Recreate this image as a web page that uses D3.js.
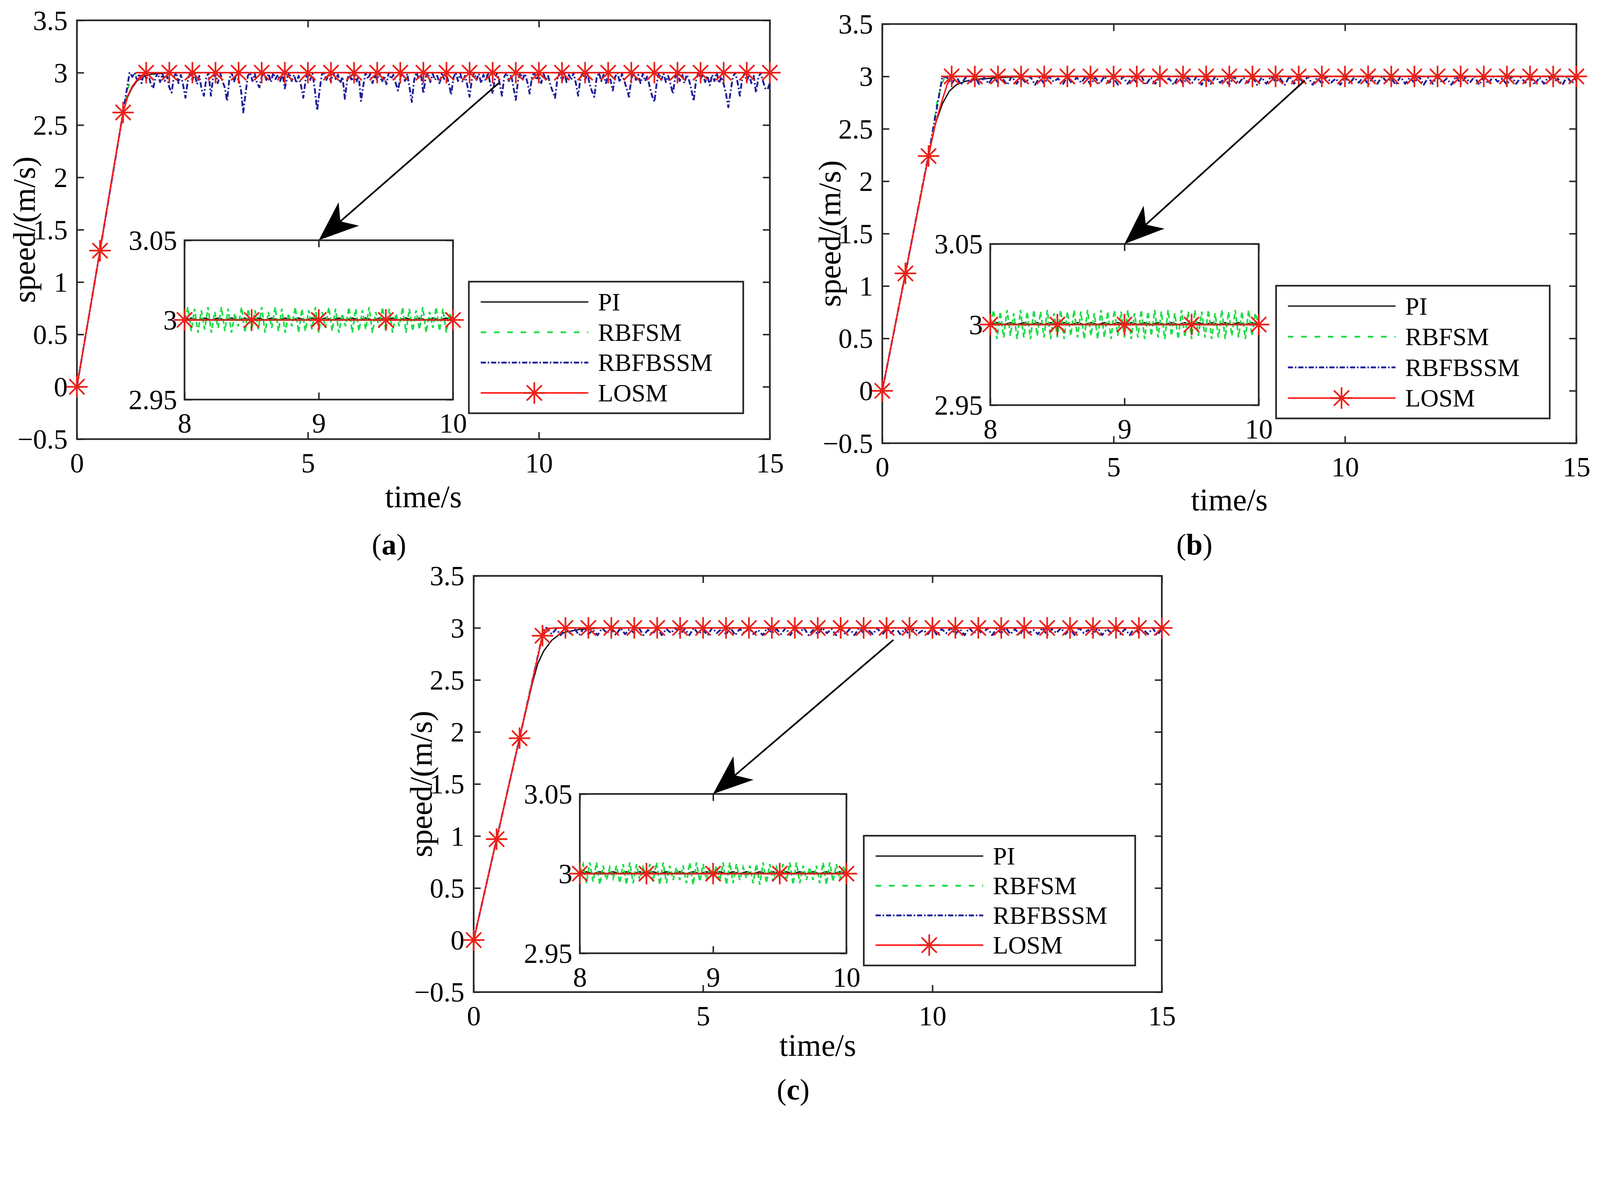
<!DOCTYPE html>
<html lang="en">
<head>
<meta charset="UTF-8">
<title>Speed response</title>
<script src="https://cdnjs.cloudflare.com/ajax/libs/d3/7.8.5/d3.min.js"></script>
<style>
html, body { margin: 0; padding: 0; background: #fff; overflow: hidden; }
svg { display: block; background: #fff; width: 100vw; height: 100vh; }
</style>
</head>
<body>
<svg id="canvas"></svg>
<script>
// ---- tick values and names ----
let xTicks = [0, 5, 10, 15]
let yTicks = [-0.5, 0, 0.5, 1, 1.5, 2, 2.5, 3, 3.5]
let insetXTicks = [8, 9, 10]
let insetYTicks = [2.95, 3, 3.05]
let seriesNames = ['PI', 'RBFSM', 'RBFBSSM', 'LOSM']

// ---- panel (a) ----
// LOSM, one value every 0.5 s from 0 to 15 (star markers)
let losmA = [0, 1.30, 2.62, 3.00, 3.00, 3.00, 3.00, 3.00, 3.00, 3.00,
             3.00, 3.00, 3.00, 3.00, 3.00, 3.00, 3.00, 3.00, 3.00, 3.00,
             3.00, 3.00, 3.00, 3.00, 3.00, 3.00, 3.00, 3.00, 3.00, 3.00, 3.00]
let losmFineA = [[0.25, 0.65], [0.75, 1.97], [1.1, 2.78], [1.2, 2.87], [1.3, 2.93], [1.4, 2.975]]
let piA = [[0, 0], [0.5, 1.30], [1.0, 2.62], [1.1, 2.77], [1.2, 2.86], [1.3, 2.92], [1.4, 2.96],
           [1.6, 2.985], [2.0, 2.998], [2.5, 3.0], [15, 3.0]]
let rbfsmA = [[0, 0], [0.5, 1.30], [1.0, 2.62], [1.1, 2.85], [1.2, 2.97], [1.3, 3.0], [15, 3.0]]
let rbfbssmRiseA = [[0, 0], [0.5, 1.30], [1.0, 2.62], [1.14, 3.0]]
// RBFBSSM from 1.15 s, every 0.05 s
let rbfbssmA = [
  3.00, 2.96, 3.00, 2.93, 2.99, 2.90, 3.00, 2.94, 2.98, 2.89, 2.85, 2.95, 3.00, 2.91, 2.99, 2.92, 2.97,
  2.86, 2.81, 2.96, 3.00, 2.90, 2.98, 2.88, 2.76, 2.92, 3.00, 2.93, 2.99, 2.89, 2.97, 2.84, 2.78, 2.95, 3.00, 2.78, 2.96,
  2.99, 2.90, 3.00, 2.92, 2.86, 2.73, 2.94, 3.00, 2.91, 2.98, 2.93, 2.84, 2.62, 2.80, 2.97, 3.00, 2.92, 2.99, 2.90, 2.86,
  2.96, 3.00, 2.93, 2.99, 2.91, 3.00, 2.94, 2.98, 2.92, 2.99, 2.85, 2.95, 3.00, 2.92, 2.98, 2.90, 2.97, 2.88, 2.76, 2.93,
  3.00, 2.93, 2.99, 2.84, 2.64, 2.82, 2.98, 3.00, 2.93, 2.99, 2.91, 3.00, 2.94, 2.98, 2.90, 2.96, 2.75, 2.93, 3.00, 2.92,
  2.99, 2.91, 2.97, 2.73, 2.88, 3.00, 2.94, 2.99, 2.90, 2.98, 2.93, 3.00, 2.91, 2.97, 2.89, 3.00, 2.94, 2.98, 2.90, 2.83,
  2.95, 3.00, 2.92, 2.99, 2.86, 2.72, 2.93, 3.00, 2.94, 2.98, 2.80, 2.96, 3.00, 2.91, 2.99, 2.93, 2.97, 2.89, 3.00, 2.94,
  2.98, 2.90, 2.79, 2.95, 3.00, 2.92, 2.99, 2.91, 2.97, 2.88, 2.77, 2.94, 3.00, 2.93, 2.99, 2.90, 2.98, 2.92, 3.00, 2.89,
  2.80, 2.95, 3.00, 2.90, 2.78, 2.96, 3.00, 2.92, 2.98, 2.86, 2.74, 2.93, 3.00, 2.94, 2.99, 2.91, 2.80, 2.96, 3.00, 2.93,
  2.98, 2.90, 2.99, 2.93, 2.97, 2.88, 2.82, 2.76, 2.94, 3.00, 2.92, 2.99, 2.91, 2.98, 2.93, 3.00, 2.90, 2.78, 2.95, 3.00,
  2.93, 2.99, 2.89, 2.82, 2.77, 2.95, 3.00, 2.92, 2.98, 2.90, 2.97, 2.93, 2.83, 2.96, 3.00, 2.91, 2.99, 2.92, 2.85, 2.77,
  2.94, 3.00, 2.93, 2.98, 2.90, 2.99, 2.92, 2.97, 2.86, 2.78, 2.72, 2.90, 3.00, 2.93, 2.99, 2.91, 2.97, 2.89, 2.80, 2.95,
  3.00, 2.92, 2.99, 2.90, 2.98, 2.93, 2.84, 2.73, 2.92, 3.00, 2.94, 2.99, 2.91, 2.97, 2.88, 2.98, 2.92, 3.00, 2.90, 2.96,
  2.89, 2.80, 2.67, 2.82, 2.96, 3.00, 2.91, 2.78, 2.94, 2.99, 2.92, 2.98, 2.90, 2.97, 2.81, 2.95, 3.00, 2.92, 2.85, 2.84,
  2.90]
// RBFSM inside the 8-10 s zoom, every 0.025 s
let rbfsmZoomA = [
  3.000, 3.008, 2.993, 3.007, 2.992, 3.006, 2.994, 3.008, 2.992, 3.005,
  2.995, 3.008, 2.993, 3.007, 2.992, 3.004, 2.996, 3.008, 2.992, 3.007,
  2.993, 3.006, 2.994, 3.008, 2.992, 3.005, 2.995, 3.008, 2.993, 3.007,
  2.992, 3.004, 2.996, 3.008, 2.992, 3.007, 2.993, 3.006, 2.994, 3.008,
  2.992, 3.005, 2.995, 3.008, 2.993, 3.007, 2.992, 3.004, 2.996, 3.008,
  2.992, 3.007, 2.993, 3.006, 2.994, 3.008, 2.992, 3.005, 2.995, 3.008,
  2.993, 3.007, 2.992, 3.004, 2.996, 3.008, 2.992, 3.007, 2.993, 3.006,
  2.994, 3.008, 2.992, 3.005, 2.995, 3.008, 2.993, 3.007, 2.992, 3.004,
  3.000]

// ---- panel (b) ----
let losmB = [0, 1.12, 2.24, 3.00, 3.00, 3.00, 3.00, 3.00, 3.00, 3.00,
             3.00, 3.00, 3.00, 3.00, 3.00, 3.00, 3.00, 3.00, 3.00, 3.00,
             3.00, 3.00, 3.00, 3.00, 3.00, 3.00, 3.00, 3.00, 3.00, 3.00, 3.00]
let losmFineB = [[0.25, 0.56], [0.75, 1.68], [1.1, 2.46], [1.2, 2.63], [1.3, 2.78], [1.4, 2.92]]
let piB = [[0, 0], [0.5, 1.12], [1.0, 2.24], [1.15, 2.55], [1.3, 2.74], [1.45, 2.86], [1.6, 2.92],
           [1.8, 2.955], [2.1, 2.975], [2.6, 2.99], [3.2, 3.0], [15, 3.0]]
let rbfsmB = [[0, 0], [0.5, 1.12], [1.0, 2.24], [1.2, 2.8], [1.35, 3.0], [15, 3.0]]
let rbfbssmRiseB = [[0, 0], [0.5, 1.12], [1.0, 2.25], [1.3, 3.0]]
// RBFBSSM from 1.4 s, every 0.1 s
let rbfbssmB = [
  2.99, 2.93, 3.00, 2.92, 2.99, 2.94,
  3.00, 2.92, 2.99, 2.93, 3.00, 2.94, 2.98, 2.92, 3.00, 2.93,
  2.99, 2.94, 3.00, 2.92, 2.99, 2.93, 3.00, 2.95, 2.98, 2.92,
  3.00, 2.93, 2.99, 2.94, 3.00, 2.92, 2.99, 2.93, 3.00, 2.94,
  2.98, 2.92, 3.00, 2.93, 2.99, 2.94, 3.00, 2.92, 2.99, 2.93,
  3.00, 2.95, 2.98, 2.92, 3.00, 2.93, 2.99, 2.94, 3.00, 2.92,
  2.99, 2.93, 3.00, 2.94, 2.98, 2.92, 3.00, 2.93, 2.99, 2.94,
  3.00, 2.92, 2.99, 2.93, 3.00, 2.95, 2.98, 2.92, 3.00, 2.93,
  2.99, 2.94, 3.00, 2.92, 2.99, 2.93, 3.00, 2.94, 2.98, 2.92,
  3.00, 2.93, 2.99, 2.94, 3.00, 2.92, 2.99, 2.93, 3.00, 2.95,
  2.98, 2.92, 3.00, 2.93, 2.99, 2.94, 3.00, 2.92, 2.99, 2.93,
  3.00, 2.94, 2.98, 2.92, 3.00, 2.93, 2.99, 2.94, 3.00, 2.92,
  2.99, 2.93, 3.00, 2.95, 2.98, 2.92, 3.00, 2.93, 2.99, 2.94,
  3.00, 2.92, 2.99, 2.93, 3.00, 2.94, 2.98, 2.92, 3.00, 2.93,
  2.99]
let rbfsmZoomB = [
  3.000, 3.009, 2.991, 3.008, 2.992, 3.009, 2.993, 3.007, 2.991, 3.009,
  2.992, 3.008, 2.991, 3.009, 2.993, 3.008, 2.992, 3.009, 2.991, 3.007,
  2.992, 3.009, 2.991, 3.008, 2.993, 3.009, 2.992, 3.008, 2.991, 3.009,
  2.993, 3.007, 2.991, 3.009, 2.992, 3.008, 2.991, 3.009, 2.993, 3.008,
  2.992, 3.009, 2.991, 3.007, 2.992, 3.009, 2.991, 3.008, 2.993, 3.009,
  2.992, 3.008, 2.991, 3.009, 2.993, 3.007, 2.991, 3.009, 2.992, 3.008,
  2.991, 3.009, 2.993, 3.008, 2.992, 3.009, 2.991, 3.007, 2.992, 3.009,
  2.991, 3.008, 2.993, 3.009, 2.992, 3.008, 2.991, 3.009, 2.993, 3.007,
  3.000]

// ---- panel (c) ----
let losmC = [0, 0.97, 1.94, 2.925, 3.00, 3.00, 3.00, 3.00, 3.00, 3.00,
             3.00, 3.00, 3.00, 3.00, 3.00, 3.00, 3.00, 3.00, 3.00, 3.00,
             3.00, 3.00, 3.00, 3.00, 3.00, 3.00, 3.00, 3.00, 3.00, 3.00, 3.00]
let losmFineC = [[0.25, 0.485], [0.75, 1.455], [1.25, 2.43], [1.55, 2.975], [1.6, 2.995]]
let piC = [[0, 0], [0.5, 0.97], [1.0, 1.94], [1.28, 2.47], [1.4, 2.66], [1.53, 2.78], [1.7, 2.88],
           [1.85, 2.93], [2.0, 2.96], [2.3, 2.985], [2.8, 3.0], [15, 3.0]]
let rbfsmC = [[0, 0], [0.5, 0.97], [1.0, 1.94], [1.5, 2.925], [1.6, 3.0], [15, 3.0]]
let rbfbssmRiseC = [[0, 0], [0.5, 0.97], [1.0, 1.94], [1.5, 2.93], [1.55, 3.0]]
// RBFBSSM from 1.6 s, every 0.1 s
let rbfbssmC = [
  3.00, 2.94, 2.99, 2.93,
  3.00, 2.95, 2.99, 2.93, 3.00, 2.94, 2.98, 2.93, 3.00, 2.95,
  2.99, 2.93, 3.00, 2.94, 2.99, 2.95, 3.00, 2.93, 2.98, 2.94,
  3.00, 2.93, 2.99, 2.95, 3.00, 2.94, 2.99, 2.93, 3.00, 2.94,
  2.98, 2.93, 3.00, 2.95, 2.99, 2.94, 3.00, 2.93, 2.99, 2.95,
  3.00, 2.94, 2.98, 2.93, 3.00, 2.95, 2.99, 2.94, 3.00, 2.93,
  2.99, 2.95, 3.00, 2.93, 2.98, 2.94, 3.00, 2.95, 2.99, 2.93,
  3.00, 2.94, 2.99, 2.93, 3.00, 2.95, 2.98, 2.94, 3.00, 2.93,
  2.99, 2.95, 3.00, 2.94, 2.99, 2.93, 3.00, 2.95, 2.98, 2.94,
  3.00, 2.93, 2.99, 2.95, 3.00, 2.94, 2.99, 2.93, 3.00, 2.95,
  2.98, 2.94, 3.00, 2.93, 2.99, 2.95, 3.00, 2.94, 2.99, 2.93,
  3.00, 2.95, 2.98, 2.94, 3.00, 2.93, 2.99, 2.95, 3.00, 2.94,
  2.99, 2.93, 3.00, 2.95, 2.98, 2.94, 3.00, 2.93, 2.99, 2.95,
  3.00, 2.94, 2.99, 2.93, 3.00, 2.95, 2.98, 2.94, 3.00, 2.93,
  2.99]
let rbfsmZoomC = [
  3.000, 3.006, 2.994, 3.007, 2.995, 3.007, 2.993, 3.005, 2.996, 3.004,
  2.997, 3.005, 2.994, 3.006, 2.993, 3.007, 2.994, 3.006, 2.996, 3.004,
  2.997, 3.006, 2.995, 3.007, 2.993, 3.007, 2.994, 3.005, 2.996, 3.004,
  2.996, 3.005, 2.994, 3.007, 2.993, 3.007, 2.995, 3.006, 2.996, 3.004,
  2.997, 3.005, 2.995, 3.007, 2.993, 3.007, 2.994, 3.006, 2.996, 3.004,
  2.997, 3.005, 2.994, 3.006, 2.993, 3.007, 2.994, 3.006, 2.995, 3.004,
  2.997, 3.006, 2.995, 3.007, 2.993, 3.007, 2.994, 3.005, 2.996, 3.004,
  2.996, 3.005, 2.994, 3.007, 2.993, 3.007, 2.995, 3.006, 2.996, 3.005,
  3.000]

// PI inside the zoom, every 0.05 s (tiny ripple just above 3)
let piZoom = [
  3.0000, 3.0012, 3.0000, 3.0012, 3.0000, 3.0012, 3.0000, 3.0012, 3.0000, 3.0012,
  3.0000, 3.0012, 3.0000, 3.0012, 3.0000, 3.0012, 3.0000, 3.0012, 3.0000, 3.0012,
  3.0000, 3.0012, 3.0000, 3.0012, 3.0000, 3.0012, 3.0000, 3.0012, 3.0000, 3.0012,
  3.0000, 3.0012, 3.0000, 3.0012, 3.0000, 3.0012, 3.0000, 3.0012, 3.0000, 3.0012,
  3.0000]

// ---- layout ----
let width = 4327
let height = 3022
let serif = "'Liberation Serif', 'Times New Roman', serif"
let axisColor = '#262626'
let colors = { pi: '#111111', rbfsm: '#1edc46', rbfbssm: '#1f1f9a', losm: '#ff1a1a', star: '#ea2119' }
let tickLen = 19

let panels = [
  { letter: 'a', x0: 208, y0: 55, x1: 2082, y1: 1188, labelX: 1052, labelY: 1500, xLabelGap: 184,
    inset: { dx: 291, dy: 595, w: 726, h: 431 }, legend: { dx: 1060, dy: 707, w: 742, h: 356 },
    arrowFrom: [9.13, 2.90],
    pi: piA, rbfsm: rbfsmA, blueRise: rbfbssmRiseA, blue: rbfbssmA, blueT0: 1.15, blueDt: 0.05,
    losm: losmA, losmFine: losmFineA, greenZoom: rbfsmZoomA },
  { letter: 'b', x0: 2386, y0: 65, x1: 4263, y1: 1199, labelX: 3230, labelY: 1500, xLabelGap: 182,
    inset: { dx: 292, dy: 595, w: 726, h: 436 }, legend: { dx: 1065, dy: 708, w: 740, h: 359 },
    arrowFrom: [9.13, 2.96],
    pi: piB, rbfsm: rbfsmB, blueRise: rbfbssmRiseB, blue: rbfbssmB, blueT0: 1.4, blueDt: 0.1,
    losm: losmB, losmFine: losmFineB, greenZoom: rbfsmZoomB },
  { letter: 'c', x0: 1281, y0: 1558, x1: 3142, y1: 2684, labelX: 2145, labelY: 2975, xLabelGap: 172,
    inset: { dx: 287, dy: 590, w: 721, h: 431 }, legend: { dx: 1055, dy: 703, w: 734, h: 351 },
    arrowFrom: [9.15, 2.885],
    pi: piC, rbfsm: rbfsmC, blueRise: rbfbssmRiseC, blue: rbfbssmC, blueT0: 1.6, blueDt: 0.1,
    losm: losmC, losmFine: losmFineC, greenZoom: rbfsmZoomC }
]

// the drawing keeps its 4327 x 3022 coordinates and is fitted to the window, top-left anchored
let svg = d3.select('#canvas')
    .attr('viewBox', `0 0 ${width} ${height}`)
    .attr('preserveAspectRatio', 'xMinYMin meet')
let defs = svg.append('defs')

let starPath = (r) => {
    let d = r * Math.SQRT1_2
    return `M${-r},0L${r},0M0,${-r}L0,${r}M${-d},${-d}L${d},${d}M${-d},${d}L${d},${-d}`
}

let fmtTick = (v) => (v < 0 ? '\u2212' : '') + Math.abs(v)

// frame with inward ticks on all four sides, labels on bottom and left
let drawAxes = (g, xScale, yScale, xt, yt, labelGap) => {
    let [xa, xb] = xScale.range()
    let [ya, yb] = yScale.range()   // ya = bottom, yb = top

    let bottom = g.append('g').attr('transform', `translate(0,${ya})`)
        .call(d3.axisBottom(xScale).tickValues(xt).tickSize(-tickLen).tickSizeOuter(0).tickFormat(fmtTick))
    let top = g.append('g').attr('transform', `translate(0,${yb})`)
        .call(d3.axisTop(xScale).tickValues(xt).tickSize(-tickLen).tickSizeOuter(0).tickFormat(''))
    let left = g.append('g').attr('transform', `translate(${xa},0)`)
        .call(d3.axisLeft(yScale).tickValues(yt).tickSize(-tickLen).tickSizeOuter(0).tickPadding(labelGap).tickFormat(fmtTick))
    let right = g.append('g').attr('transform', `translate(${xb},0)`)
        .call(d3.axisRight(yScale).tickValues(yt).tickSize(-tickLen).tickSizeOuter(0).tickFormat(''))

    for (let a of [bottom, top, left, right]) {
        a.select('.domain').remove()
        a.attr('font-family', serif).attr('font-size', 75).attr('color', '#000')
        a.selectAll('line').attr('stroke', axisColor).attr('stroke-width', 4)
    }
    bottom.selectAll('text').attr('y', 90).attr('dy', null)
    left.selectAll('text').attr('dy', '0.34em')

    g.append('rect')
        .attr('x', xa).attr('y', yb).attr('width', xb - xa).attr('height', ya - yb)
        .attr('fill', 'none').attr('stroke', axisColor).attr('stroke-width', 4.5)
}

let drawPanel = (p, idx) => {
    let g = svg.append('g')

    let xScale = d3.scaleLinear().domain([0, 15]).range([p.x0, p.x1])
    let yScale = d3.scaleLinear().domain([-0.5, 3.5]).range([p.y1, p.y0])
    let line = d3.line().x(d => xScale(d[0])).y(d => yScale(d[1]))

    let clipId = 'clip-' + p.letter
    defs.append('clipPath').attr('id', clipId).append('rect')
        .attr('x', p.x0).attr('y', p.y0).attr('width', p.x1 - p.x0).attr('height', p.y1 - p.y0)

    let blueSeries = p.blueRise.concat(p.blue.map((v, k) => [p.blueT0 + k * p.blueDt, v]))
    let losmMarks = p.losm.map((v, k) => [k * 0.5, v])
    let losmLine = losmMarks.concat(p.losmFine).sort((a, b) => a[0] - b[0])

    let data = g.append('g').attr('clip-path', `url(#${clipId})`)
    data.append('path').attr('d', line(p.pi)).attr('fill', 'none')
        .attr('stroke', colors.pi).attr('stroke-width', 3.5)
    data.append('path').attr('d', line(p.rbfsm)).attr('fill', 'none')
        .attr('stroke', colors.rbfsm).attr('stroke-width', 4).attr('stroke-dasharray', '16,18')
    data.append('path').attr('d', line(blueSeries)).attr('fill', 'none')
        .attr('stroke', colors.rbfbssm).attr('stroke-width', 5).attr('stroke-linejoin', 'round')
        .attr('stroke-dasharray', '15,6,4,6')
    data.append('path').attr('d', line(losmLine)).attr('fill', 'none')
        .attr('stroke', colors.losm).attr('stroke-width', 4)

    drawAxes(g, xScale, yScale, xTicks, yTicks, 25)

    g.selectAll('.star')
        .data(losmMarks)
        .enter()
        .append('path')
        .attr('class', 'star')
        .attr('d', starPath(29))
        .attr('transform', d => `translate(${xScale(d[0])},${yScale(d[1])})`)
        .attr('fill', 'none').attr('stroke', colors.star).attr('stroke-width', 4.5)

    // axis titles
    g.append('text')
        .attr('x', (p.x0 + p.x1) / 2).attr('y', p.y1 + p.xLabelGap)
        .attr('text-anchor', 'middle').attr('font-family', serif).attr('font-size', 85)
        .text('time/s')
    g.append('text')
        .attr('transform', `translate(${p.x0 - 114},${(p.y0 + p.y1) / 2}) rotate(-90)`)
        .attr('text-anchor', 'middle').attr('font-family', serif).attr('font-size', 85)
        .text('speed/(m/s)')

    // ---- zoomed inset 8-10 s ----
    let ix = p.x0 + p.inset.dx
    let iy = p.y0 + p.inset.dy
    let ixScale = d3.scaleLinear().domain([8, 10]).range([ix, ix + p.inset.w])
    let iyScale = d3.scaleLinear().domain([2.95, 3.05]).range([iy + p.inset.h, iy])
    let iline = d3.line().x(d => ixScale(d[0])).y(d => iyScale(d[1]))

    let ig = g.append('g')
    ig.append('rect').attr('x', ix).attr('y', iy).attr('width', p.inset.w).attr('height', p.inset.h)
        .attr('fill', '#fff')

    let iclipId = 'iclip-' + p.letter
    defs.append('clipPath').attr('id', iclipId).append('rect')
        .attr('x', ix).attr('y', iy).attr('width', p.inset.w).attr('height', p.inset.h)

    let zoomMarks = losmMarks.filter(d => d[0] >= 8 && d[0] <= 10)
    let idata = ig.append('g').attr('clip-path', `url(#${iclipId})`)
    idata.append('path').attr('d', iline(piZoom.map((v, k) => [8 + k * 0.05, v]))).attr('fill', 'none')
        .attr('stroke', colors.pi).attr('stroke-width', 3.5)
    idata.append('path').attr('d', iline(p.greenZoom.map((v, k) => [8 + k * 0.025, v]))).attr('fill', 'none')
        .attr('stroke', colors.rbfsm).attr('stroke-width', 4.5).attr('stroke-dasharray', '14,8')
    idata.append('path').attr('d', iline(zoomMarks)).attr('fill', 'none')
        .attr('stroke', '#c0301c').attr('stroke-width', 5)

    drawAxes(ig, ixScale, iyScale, insetXTicks, insetYTicks, 20)

    ig.selectAll('.istar')
        .data(zoomMarks)
        .enter()
        .append('path')
        .attr('class', 'istar')
        .attr('d', starPath(29))
        .attr('transform', d => `translate(${ixScale(d[0])},${iyScale(d[1])})`)
        .attr('fill', 'none').attr('stroke', colors.star).attr('stroke-width', 4.5)

    // ---- legend ----
    let lx = p.x0 + p.legend.dx
    let ly = p.y0 + p.legend.dy
    let lg = g.append('g')
    lg.append('rect').attr('x', lx).attr('y', ly).attr('width', p.legend.w).attr('height', p.legend.h)
        .attr('fill', '#fff').attr('stroke', axisColor).attr('stroke-width', 4.5)
    let rowGap = (p.legend.h - 110) / 3
    let styles = [
        { color: colors.pi, w: 3.5, dash: null },
        { color: colors.rbfsm, w: 5, dash: '15,21' },
        { color: colors.rbfbssm, w: 5, dash: '14,5,4,5' },
        { color: colors.losm, w: 4, dash: null }
    ]
    seriesNames.forEach((name, k) => {
        let ry = ly + 55 + k * rowGap
        lg.append('line').attr('x1', lx + 32).attr('x2', lx + 323).attr('y1', ry).attr('y2', ry)
            .attr('stroke', styles[k].color).attr('stroke-width', styles[k].w)
            .attr('stroke-dasharray', styles[k].dash)
        if (name === 'LOSM') {
            lg.append('path').attr('d', starPath(29))
                .attr('transform', `translate(${lx + 177},${ry})`)
                .attr('fill', 'none').attr('stroke', colors.star).attr('stroke-width', 4.5)
        }
        lg.append('text').attr('x', lx + 349).attr('y', ry + 23)
            .attr('font-family', serif).attr('font-size', 68).text(name)
    })

    // ---- arrow from the curve to the inset ----
    let sx = xScale(p.arrowFrom[0])
    let sy = yScale(p.arrowFrom[1])
    let tx = ixScale(9)
    let ty = iy
    let len = Math.hypot(tx - sx, ty - sy)
    let ux = (tx - sx) / len
    let uy = (ty - sy) / len
    let nx = -uy
    let ny = ux
    let headL = 108
    let headW = 42
    let bx = tx - ux * headL
    let by = ty - uy * headL
    let mx = tx - ux * headL * 0.72
    let my = ty - uy * headL * 0.72
    g.append('line').attr('x1', sx).attr('y1', sy).attr('x2', mx).attr('y2', my)
        .attr('stroke', '#000').attr('stroke-width', 4.5)
    g.append('path')
        .attr('d', `M${tx},${ty}L${bx + nx * headW},${by + ny * headW}L${mx},${my}L${bx - nx * headW},${by - ny * headW}Z`)
        .attr('fill', '#000')

    // ---- panel letter ----
    let lab = g.append('text').attr('x', p.labelX).attr('y', p.labelY)
        .attr('text-anchor', 'middle').attr('font-family', serif).attr('font-size', 80)
    lab.append('tspan').text('(')
    lab.append('tspan').attr('font-weight', 'bold').text(p.letter)
    lab.append('tspan').text(')')
}

panels.forEach(drawPanel)
</script>
</body>
</html>
